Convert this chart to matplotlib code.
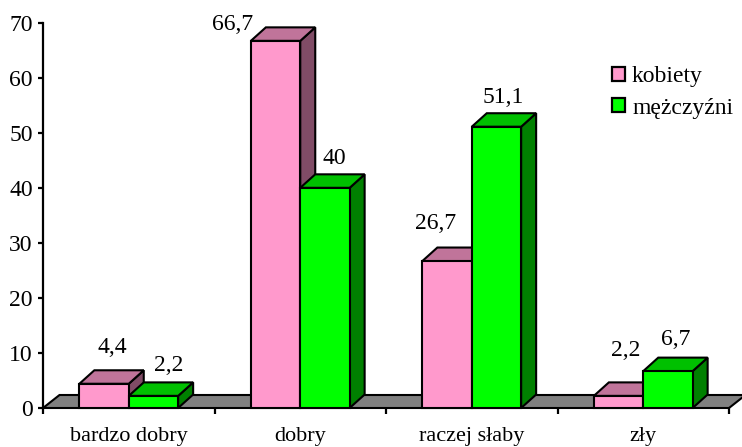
import matplotlib
matplotlib.use('Agg')
import matplotlib.pyplot as plt
from matplotlib.patches import Polygon, Patch

# ---------------- data ----------------
categories = ['bardzo dobry', 'dobry', 'raczej słaby', 'zły']
series_names = ['kobiety', 'mężczyźni']
kobiety = [4.4, 66.7, 26.7, 2.2]
mezczyzni = [2.2, 40, 51.1, 6.7]
yticks = [0, 10, 20, 30, 40, 50, 60, 70]

# ---------------- style ----------------
plt.rcParams['font.family'] = ['Liberation Serif', 'DejaVu Serif']
W, H = 742, 447
colors = {
    'kobiety': dict(front='#FF99CC', top='#C0749A', side='#804C66'),
    'mężczyźni': dict(front='#00FF00', top='#00C000', side='#008000'),
}
# per-label nudges (pixels, x right / y up) to mimic the original label placement
label_nudge = {
    'kobiety': [(0, 6.6), (-51, -14), (-19, 7.5), (-1, 15.4)],
    'mężczyźni': [(7.5, 0), (1.5, -0.8), (-1, -0.6), (0, 2)],
}

fig = plt.figure(figsize=(W / 100, H / 100), dpi=100)
ax_l, ax_r, ax_b, ax_t = 43, 729, 408, 22.7
ax = fig.add_axes([ax_l / W, (H - ax_b) / H, (ax_r - ax_l) / W, (ax_b - ax_t) / H])
n = len(categories)
ax.set_xlim(0, n)
ax.set_ylim(0, 70)

ux = n / (ax_r - ax_l)       # data units per pixel (x)
uy = 70 / (ax_b - ax_t)      # data units per pixel (y)
LW = 1.5

# floor
fdx, fdy = 16.5 * ux, 13 * uy
floor = Polygon([(0, 0), (n, 0), (n + fdx, fdy), (fdx, fdy)], closed=True,
                facecolor='#808080', edgecolor='black', lw=LW, clip_on=False, zorder=1)
ax.add_patch(floor)

bw = 0.288
bdx, bdy = 15 * ux, 13.5 * uy


def draw_box(x0, w, h, c, z):
    front = [(x0, 0), (x0 + w, 0), (x0 + w, h), (x0, h)]
    top = [(x0, h), (x0 + w, h), (x0 + w + bdx, h + bdy), (x0 + bdx, h + bdy)]
    side = [(x0 + w, 0), (x0 + w + bdx, bdy), (x0 + w + bdx, h + bdy), (x0 + w, h)]
    for pts, fc in ((side, c['side']), (top, c['top']), (front, c['front'])):
        ax.add_patch(Polygon(pts, closed=True, facecolor=fc, edgecolor='black',
                             lw=LW, joinstyle='miter', clip_on=False, zorder=z))


def fmt(v):
    return f"{v:g}".replace('.', ',')


z = 2
for i in range(n):
    for s, (name, vals) in enumerate(zip(series_names, [kobiety, mezczyzni])):
        x0 = i + 0.5 - bw + s * bw
        v = vals[i]
        draw_box(x0, bw, v, colors[name], z)
        z += 1
        ndx, ndy = label_nudge[name][i]
        ax.annotate(fmt(v), xy=(x0 + bw / 2, v + bdy), xycoords='data',
                    xytext=((8 + ndx) * 0.72, (11 + ndy) * 0.72), textcoords='offset points',
                    ha='center', va='baseline', fontsize=17, zorder=50,
                    annotation_clip=False)

# axes styling
for sp in ('top', 'right', 'bottom'):
    ax.spines[sp].set_visible(False)
ax.spines['left'].set_linewidth(1.6)
ax.spines['left'].set_zorder(60)
ax.set_yticks(yticks)
ax.set_yticklabels([str(t) for t in yticks])
ax.tick_params(axis='y', direction='out', length=3.8, width=1.6, pad=3.6, labelsize=17)

ax.set_xticks(range(n + 1))
ax.set_xticklabels([''] * (n + 1))
ax.tick_params(axis='x', which='major', direction='out', length=4.5, width=1.6)
ax.set_xticks([i + 0.5 for i in range(n)], minor=True)
ax.set_xticklabels(categories, minor=True)
ax.tick_params(axis='x', which='minor', length=0, pad=14, labelsize=16)

handles = [Patch(facecolor=colors[nm]['front'], edgecolor='black', lw=1.6) for nm in series_names]
ax.legend(handles, series_names, loc='upper left', bbox_to_anchor=(612 / W, 1 - 66 / H),
          bbox_transform=fig.transFigure, frameon=False, fontsize=17,
          handlelength=0.55, handleheight=0.55, handletextpad=0.3,
          labelspacing=0.45, borderpad=0, borderaxespad=0)

fig.savefig('out.png', dpi=100)
